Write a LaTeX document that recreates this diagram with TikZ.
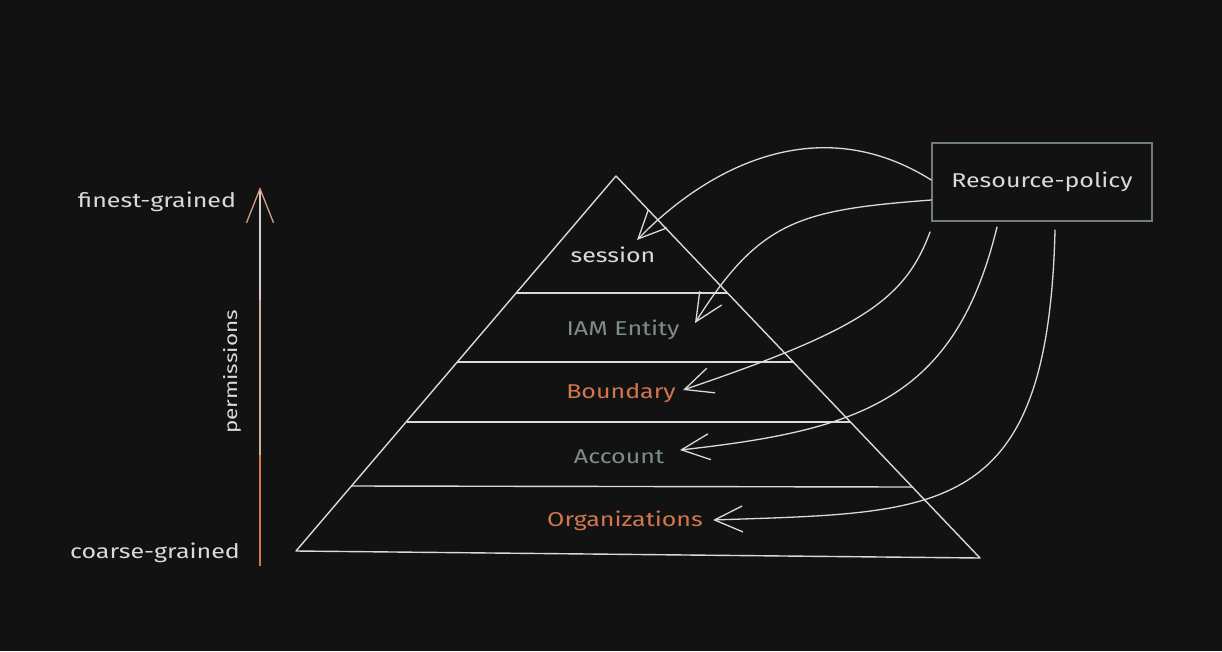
\documentclass[tikz,border=0pt]{standalone}
\usepackage{fontspec}
\setmainfont[FakeStretch=1.25]{Fira Sans}
\usetikzlibrary{arrows.meta,calc}
\definecolor{bg}{HTML}{121212}
\definecolor{ink}{HTML}{DADADA}
\definecolor{sage}{HTML}{7E8E83}
\definecolor{rust}{HTML}{D27650}
\definecolor{boxc}{HTML}{6F7F74}
\begin{document}
\begin{tikzpicture}[x=1pt,y=-1pt,
  lbl/.style={font=\fontsize{20}{23}\selectfont, inner sep=0pt},
  side/.style={draw=ink, line width=1.4pt, line join=round},
  conn/.style={draw=ink, line width=1.3pt, line cap=round,
    -{Straight Barb[length=28pt,width=26pt,line width=1.3pt]}},
]
\fill[bg] (0,0) rectangle (1222,651);
\useasboundingbox (0,0) rectangle (1222,651);

% pyramid
\coordinate (apex) at (616,176);
\coordinate (bl) at (296,551);
\coordinate (br) at (980,558);
\draw[side] (bl) -- (apex) -- (br) -- cycle;
\coordinate (l1) at (516,293); \coordinate (r1) at (727,293);
\coordinate (l2) at (457,362); \coordinate (r2) at (794,362);
\coordinate (l3) at (407,422); \coordinate (r3) at (850,422);
\coordinate (l4) at (352,486); \coordinate (r4) at (912,487);
\draw[side] (l1) -- (r1);
\draw[side] (l2) -- (r2);
\draw[side] (l3) -- (r3);
\draw[side] (l4) -- (r4);

% layer labels
\node[lbl, text=ink]  (session)  at (613,255) {session};
\node[lbl, text=sage] (iam)      at (623,330) {IAM Entity};
\node[lbl, text=rust] (boundary) at (621,393) {Boundary};
\node[lbl, text=sage] (account)  at (619,457) {Account};
\node[lbl, text=rust] (org)      at (625,521) {Organizations};

% resource policy box
\node[lbl, text=ink, draw=boxc, line width=1.6pt, minimum width=220pt, minimum height=78pt]
  (rp) at (1042,182) {Resource-policy};

% arrow tips
\coordinate (t1) at (637,240);
\coordinate (t2) at (695,323);
\coordinate (t3) at (683,390);
\coordinate (t4) at (680,450);
\coordinate (t5) at (713,520);
\coordinate (s3) at (930,232);
\coordinate (s4) at (997,227);
\coordinate (s5) at (1055,230);

\draw[conn] ([yshift=2pt]rp.west) .. controls (820,110) and (710,165) .. (t1);
\draw[conn] ([yshift=-18pt]rp.west) .. controls (800,210) and (760,220) .. (t2);
\draw[conn] (s3) .. controls (905,300) and (860,330) .. (t3);
\draw[conn] (s4) .. controls (955,400) and (860,430) .. (t4);
\draw[conn] (s5) .. controls (1048,520) and (940,512) .. (t5);

% permissions axis
\coordinate (abot) at (260,566);
\coordinate (amid) at (260,300);
\coordinate (amid2) at (260,455);
\coordinate (atop) at (260,187);
\draw[rust, line width=1.3pt] (abot) -- (amid2);
\draw[rust!45!ink, line width=1.3pt] (amid2) -- (amid);
\draw[draw=ink!85!rust, line width=1.3pt, -{Straight Barb[length=34pt,width=27pt,line width=1.3pt,color=rust!60!ink]}] (amid) -- (atop);

\node[lbl, text=ink] (finest) at (157,202) {finest-grained};
\node[lbl, text=ink] (coarse) at (155,553) {coarse-grained};
\node[lbl, text=ink, font=\fontsize{18}{21}\selectfont, rotate=90] (perm) at (232,372) {permissions};
\end{tikzpicture}
\end{document}
